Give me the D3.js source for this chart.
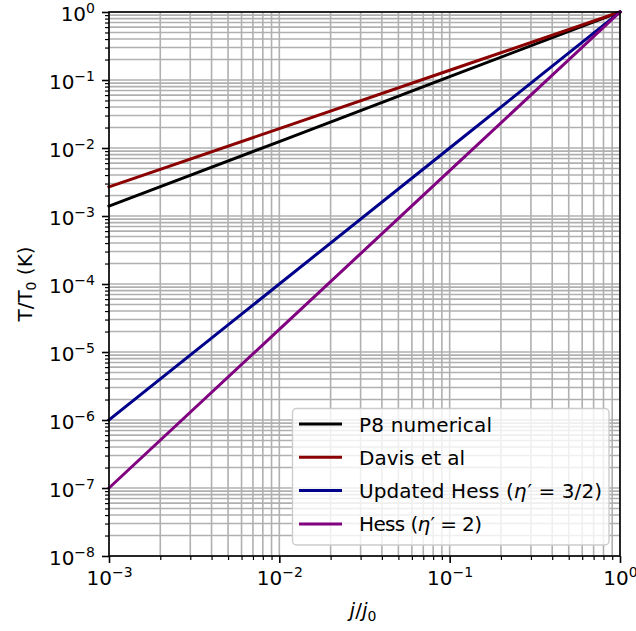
<!DOCTYPE html>
<html>
<head>
<meta charset="utf-8">
<script src="https://cdn.jsdelivr.net/npm/d3@7"></script>
<style>
  html, body { margin: 0; padding: 0; background: #fff; }
  svg { display: block; font-family: "DejaVu Sans", sans-serif; }
</style>
</head>
<body>
<svg id="chart" width="636" height="631"></svg>
<script>
// ---- data ----
const xPoints = [1e-3, 1e-2, 1e-1, 1];
const p8Numerical = [1.4e-3, 1.24e-2, 1.12e-1, 1];
const davisEtAl = [2.68e-3, 1.93e-2, 1.39e-1, 1];
const updatedHess = [1e-6, 1e-4, 1e-2, 1];
const hess = [1e-7, 2.154e-5, 4.64e-3, 1];
const seriesNames = ["P8 numerical", "Davis et al", "Updated Hess", "Hess"];
const xTickExponents = [-3, -2, -1, 0];
const yTickExponents = [-8, -7, -6, -5, -4, -3, -2, -1, 0];

const seriesList = [
  { name: seriesNames[0], values: p8Numerical, color: "#000000" },
  { name: seriesNames[1], values: davisEtAl, color: "#8b0000" },
  { name: seriesNames[2], values: updatedHess, color: "#00008b" },
  { name: seriesNames[3], values: hess, color: "#800080" }
];

// ---- layout ----
const L = 109, R = 620, T = 12, B = 556;
const svg = d3.select("#chart");
const x = d3.scaleLog().domain([1e-3, 1]).range([L, R]);
const y = d3.scaleLog().domain([1e-8, 1]).range([B, T]);

const majorX = xTickExponents.map(e => Math.pow(10, e));
const majorY = yTickExponents.map(e => Math.pow(10, e));
function minorsOf(exps) {
  const out = [];
  for (let i = 0; i < exps.length - 1; i++)
    for (let k = 2; k <= 9; k++) out.push(k * Math.pow(10, exps[i]));
  return out;
}
const minorX = minorsOf(xTickExponents);
const minorY = minorsOf(yTickExponents);

// ---- grid ----
const grid = svg.append("g").attr("stroke", "#b0b0b0").attr("stroke-width", 1.6);
grid.selectAll("line.gx").data(majorX.concat(minorX)).enter().append("line")
  .attr("x1", d => x(d)).attr("x2", d => x(d)).attr("y1", T).attr("y2", B);
grid.selectAll("line.gy").data(majorY.concat(minorY)).enter().append("line")
  .attr("y1", d => y(d)).attr("y2", d => y(d)).attr("x1", L).attr("x2", R);

// ---- lines ----
const line = d3.line().x(d => x(d[0])).y(d => y(d[1]));
svg.append("g").selectAll("path").data(seriesList).enter().append("path")
  .attr("d", s => line(xPoints.map((xv, i) => [xv, s.values[i]])))
  .attr("fill", "none").attr("stroke", s => s.color).attr("stroke-width", 3)
  .attr("stroke-linecap", "square");

// ---- axes ----
function supLabel(sel) {
  sel.each(function(d) {
    const t = d3.select(this);
    t.text(null);
    t.append("tspan").text("10");
    const e = Math.round(Math.log10(d));
    t.append("tspan").attr("font-size", 14).attr("dy", -8)
      .text(e < 0 ? "\u2212" + (-e) : String(e));
  });
}

const xAxisMinor = d3.axisBottom(x).tickValues(minorX).tickSize(4).tickFormat("");
const xAxisMajor = d3.axisBottom(x).tickValues(majorX).tickSize(7).tickPadding(8).tickFormat(d => "10");
const yAxisMinor = d3.axisLeft(y).tickValues(minorY).tickSize(4).tickFormat("");
const yAxisMajor = d3.axisLeft(y).tickValues(majorY).tickSize(7).tickPadding(7).tickFormat(d => "10");

function styleAxis(g) {
  g.select(".domain").remove();
  g.selectAll(".tick line").attr("stroke", "#000").attr("stroke-width", 1.6);
  g.selectAll("text").attr("fill", "#000").attr("font-size", 20)
    .attr("font-family", "DejaVu Sans, sans-serif");
}

svg.append("g").attr("transform", `translate(0,${B})`).call(xAxisMinor).call(styleAxis)
  .selectAll(".tick line").attr("stroke-width", 1.2);
const gxM = svg.append("g").attr("transform", `translate(0,${B})`).call(xAxisMajor).call(styleAxis);
gxM.selectAll(".tick text").attr("dy", "0.71em").call(supLabel);

svg.append("g").attr("transform", `translate(${L},0)`).call(yAxisMinor).call(styleAxis)
  .selectAll(".tick line").attr("stroke-width", 1.2);
const gyM = svg.append("g").attr("transform", `translate(${L},0)`).call(yAxisMajor).call(styleAxis);
gyM.selectAll(".tick text").attr("dy", "0.44em").call(supLabel);

// spines
svg.append("rect").attr("x", L).attr("y", T).attr("width", R - L).attr("height", B - T)
  .attr("fill", "none").attr("stroke", "#000").attr("stroke-width", 1.6);

// ---- axis labels ----
const xl = svg.append("text").attr("x", 363).attr("y", 617).attr("text-anchor", "middle")
  .attr("font-size", 20).attr("fill", "#000");
xl.append("tspan").attr("font-style", "italic").text("j");
xl.append("tspan").text("/");
xl.append("tspan").attr("font-style", "italic").text("j");
xl.append("tspan").attr("font-size", 14).attr("dy", 4).text("0");

const yl = svg.append("text").attr("transform", "translate(32,284) rotate(-90)")
  .attr("text-anchor", "middle").attr("font-size", 20).attr("fill", "#000");
yl.append("tspan").text("T/T");
yl.append("tspan").attr("font-size", 14).attr("dy", 4).text("0");
yl.append("tspan").attr("dy", -4).text(" (K)");

// ---- legend ----
const lg = svg.append("g");
lg.append("rect").attr("x", 292.5).attr("y", 408.5).attr("width", 316.5).attr("height", 136.5)
  .attr("rx", 4).attr("fill", "#fff").attr("fill-opacity", 0.8)
  .attr("stroke", "#cccccc").attr("stroke-width", 1.4);
const legendLabels = [
  [{ t: "P8 numerical" }],
  [{ t: "Davis et al" }],
  [{ t: "Updated Hess (" }, { t: "\u03b7", i: true }, { t: "\u2032", sup: true }, { t: " = 3/2)" }],
  [{ t: "Hess (" }, { t: "\u03b7", i: true }, { t: "\u2032", sup: true }, { t: " = 2)" }]
];
const legendWidths = [133, 108, 243, 123];
seriesList.forEach((s, i) => {
  const cy = 424 + i * 33.3;
  lg.append("line").attr("x1", 299).attr("x2", 342).attr("y1", cy).attr("y2", cy)
    .attr("stroke", s.color).attr("stroke-width", 3);
  const tx = lg.append("text").attr("x", 359).attr("y", cy + 7.5)
    .attr("font-size", 20).attr("fill", "#000");
  legendLabels[i].forEach(p => {
    const ts = tx.append("tspan").text(p.t);
    if (p.i) ts.attr("font-style", "italic");
    if (p.sup) ts.attr("dx", 1);
  });
  const w = tx.node().getComputedTextLength();
  if (Math.abs(w - legendWidths[i]) > 2) {
    tx.attr("textLength", legendWidths[i]).attr("lengthAdjust", "spacing");
  }
});
</script>
</body>
</html>
